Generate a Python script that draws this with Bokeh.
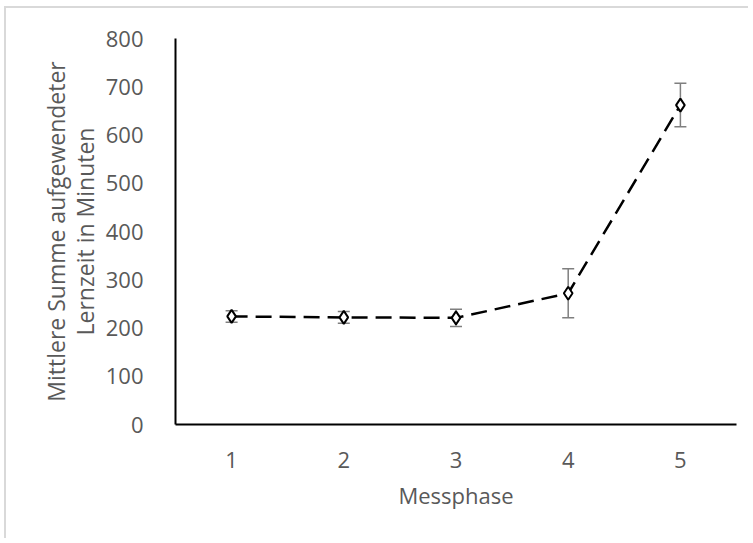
from bokeh.plotting import figure
from bokeh.models import ColumnDataSource, Whisker, TeeHead, Range1d, FixedTicker
from bokeh.embed import file_html
from bokeh.resources import INLINE

phase = [1, 2, 3, 4, 5]
mean_minutes = [224, 222, 221, 272, 662]
error = [12, 12, 18, 51, 45]
y_ticks = [0, 100, 200, 300, 400, 500, 600, 700, 800]

lower = [m - e for m, e in zip(mean_minutes, error)]
upper = [m + e for m, e in zip(mean_minutes, error)]
src = ColumnDataSource(dict(x=phase, y=mean_minutes, lower=lower, upper=upper))

FONT = "Open Sans"
GRAY = "#595959"

p = figure(width=744, height=532, output_backend="svg", toolbar_location=None,
           x_range=Range1d(0.5, 5.5), y_range=Range1d(0, 800),
           min_border_left=169, min_border_right=14, min_border_top=30, min_border_bottom=116)
p.outline_line_color = None
p.xgrid.visible = False
p.ygrid.visible = False
p.background_fill_color = "white"
p.border_fill_color = "white"
p.styles = {"border-top": "2px solid #d9d9d9", "border-left": "2px solid #d9d9d9",
            "margin-left": "4px", "margin-top": "6px"}

for ax in (p.xaxis[0], p.yaxis[0]):
    ax.axis_line_color = "black"
    ax.axis_line_width = 2
    ax.major_tick_line_color = None
    ax.minor_tick_line_color = None
    ax.major_label_text_font = FONT
    ax.major_label_text_font_size = "22px"
    ax.major_label_text_color = GRAY
    ax.axis_label_text_font = FONT
    ax.axis_label_text_color = GRAY
    ax.axis_label_text_font_style = "normal"

p.xaxis.axis_label_text_font_size = "22px"
p.yaxis.axis_label_text_font_size = "23px"
p.yaxis.axis_label_text_line_height = 0.9
p.xaxis.ticker = FixedTicker(ticks=phase)
p.yaxis.ticker = FixedTicker(ticks=y_ticks)
p.xaxis.major_label_standoff = 21
p.yaxis.major_label_standoff = 26
p.xaxis.axis_label = "Messphase"
p.xaxis.axis_label_standoff = 9
p.yaxis.axis_label = "Mittlere Summe aufgewendeter\nLernzeit in Minuten"
p.yaxis.axis_label_standoff = 2

whisk = Whisker(source=src, base="x", lower="lower", upper="upper",
                line_color="#7f7f7f", line_width=1.5,
                upper_head=TeeHead(size=12, line_color="#7f7f7f", line_width=1.5),
                lower_head=TeeHead(size=12, line_color="#7f7f7f", line_width=1.5))
p.add_layout(whisk)

p.line("x", "y", source=src, line_color="black", line_width=2.5, line_dash="16 8")
p.scatter("x", "y", source=src, marker="diamond", size=13, fill_color="white",
          line_color="black", line_width=2)

open("out.html", "w").write(file_html(p, INLINE))
